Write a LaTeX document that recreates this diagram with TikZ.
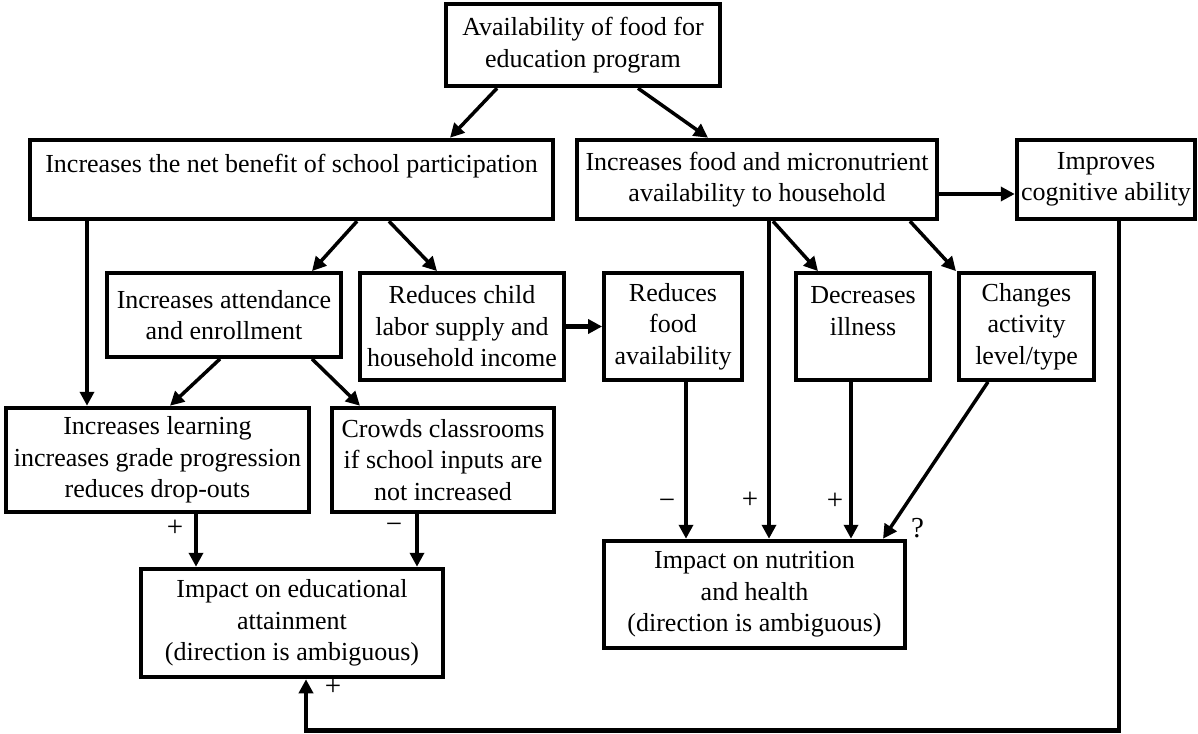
\documentclass[tikz,border=0pt]{standalone}
\usepackage{fontspec}
\setmainfont{Liberation Serif}
\usetikzlibrary{arrows.meta}

\tikzset{
	box/.style={draw, line width=4.5pt, inner sep=0pt, align=center, font=\fontsize{26}{31.5}\selectfont},
	sbox/.style={box, line width=3.8pt},
	arr/.style={line width=3.5pt, -{Triangle[length=14pt,width=14pt]}},
	sign/.style={font=\fontsize{29}{29}\selectfont, inner sep=0pt}
}

\begin{document}
\begin{tikzpicture}[x=1pt, y=-1pt]
			%%%%% START %%%%%
			\useasboundingbox (0,0) rectangle (1198,733);
			
			\node[box, minimum width=274pt, minimum height=82pt] (avail) at (583, 45) {Availability of food for\\education program};
			
			\node[box, minimum width=523pt, minimum height=79pt] (benefit) at (291.5, 179.5) {Increases the net benefit of school participation\\~};
			\node[box, minimum width=360pt, minimum height=79pt] (food) at (757, 179.5) {Increases food and micronutrient\\availability to household};
			\node[box, minimum width=178pt, minimum height=79pt] (cog) at (1106, 179.5) {Improves\\cognitive ability};
			
			\node[sbox, minimum width=234pt, minimum height=84pt] (attend) at (224, 315) {Increases attendance\\and enrollment};
			\node[sbox, minimum width=204pt, minimum height=107pt] (labor) at (462, 326.5) {Reduces child\\labor supply and\\household income};
			\node[sbox, minimum width=138pt, minimum height=107pt] (redfood) at (673, 326.5) {Reduces\\food\\availability};
			\node[sbox, minimum width=134pt, minimum height=107pt] (ill) at (863, 326.5) {Decreases\\illness\\~};
			\node[sbox, minimum width=135pt, minimum height=107pt] (activ) at (1026.5, 326.5) {Changes\\activity\\level/type};
			
			\node[box, minimum width=303pt, minimum height=104pt] (learn) at (157.5, 460) {Increases learning\\increases grade progression\\reduces drop-outs};
			\node[box, minimum width=222pt, minimum height=104pt] (crowd) at (443, 460) {Crowds classrooms\\if school inputs are\\not increased};
			
			\node[box, minimum width=302pt, minimum height=108pt] (eduimp) at (292, 623) {Impact on educational\\attainment\\(direction is ambiguous)};
			\node[box, minimum width=301pt, minimum height=107pt] (nutimp) at (754.5, 594.5) {Impact on nutrition\\and health\\(direction is ambiguous)};
			
			% top
			\draw[arr] ([xshift=-86pt]avail.south) -- ([xshift=158.5pt]benefit.north);
			\draw[arr] ([xshift=55pt]avail.south) -- ([xshift=-49pt]food.north);
			\draw[arr, line width=4.5pt] ([yshift=-14.5pt]food.east) -- ([yshift=-14.5pt]cog.west);
			
			% school side
			\draw[arr] ([xshift=-204.5pt]benefit.south) -- ([xshift=-70.5pt]learn.north);
			\draw[arr] ([xshift=65.5pt]benefit.south) -- ([xshift=88pt]attend.north);
			\draw[arr] ([xshift=97.5pt]benefit.south) -- ([xshift=-25pt]labor.north);
			\draw[arr] ([xshift=-4pt]attend.south) -- ([xshift=12.5pt]learn.north);
			\draw[arr] ([xshift=88pt]attend.south) -- ([xshift=-83pt]crowd.north);
			\draw[arr, line width=4.5pt] (labor.east) -- (redfood.west);
			\draw[arr] ([xshift=38.5pt]learn.south) -- node[sign, pos=0.26, left=11pt] (plearn) {+} ([xshift=-96pt]eduimp.north);
			\draw[arr] ([xshift=-26pt]crowd.south) -- node[sign, pos=0.26, left=13pt] (mcrowd) {−} ([xshift=125pt]eduimp.north);
			
			% household side
			\draw[arr] ([xshift=13pt]redfood.south) -- node[sign, pos=0.78, left=9pt] (mfood) {−} ([xshift=-68.5pt]nutimp.north);
			\draw[arr] ([xshift=12pt]food.south) -- node[sign, pos=0.88, left=9pt] (pfood) {+} ([xshift=14.5pt]nutimp.north);
			\draw[arr] ([xshift=16pt]food.south) -- ([xshift=-45pt]ill.north);
			\draw[arr] ([xshift=153pt]food.south) -- ([xshift=-70.5pt]activ.north);
			\draw[arr] ([xshift=-12pt]ill.south) -- node[sign, pos=0.76, left=6pt] (pill) {+} ([xshift=96.5pt]nutimp.north);
			\draw[arr] ([xshift=-38.5pt]activ.south) -- node[sign, pos=0.93, right=19pt] (qactiv) {?} ([xshift=128.5pt]nutimp.north);
			
			% feedback
			\draw[arr, line width=4.5pt] ([xshift=13pt]cog.south) -- ++(0,509) -| ([xshift=14pt]eduimp.south);
			\node[sign] (pcog) at (333, 687) {+};
			
			%%%%% END %%%%%
\end{tikzpicture}
\end{document}
